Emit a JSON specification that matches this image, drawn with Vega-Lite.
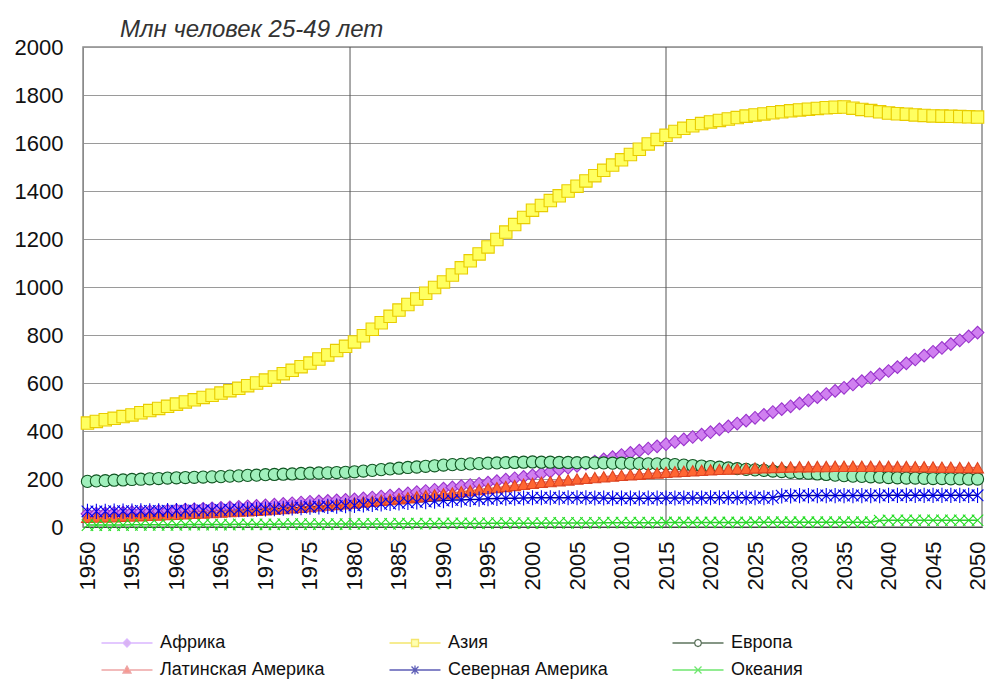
{
"$schema": "https://vega.github.io/schema/vega-lite/v6.json",
"width": 899, "height": 480,
"autosize": {"type": "none"},
"padding": {"left": 83, "top": 47, "right": 7, "bottom": 156},
"background": "white",
"config": {"font": "Liberation Sans", "view": {"stroke": "#8a8a8a", "strokeWidth": 1.5}},
"title": {"text": "Млн человек 25-49 лет", "anchor": "start", "frame": "group", "fontStyle": "italic", "fontWeight": "normal", "fontSize": 24, "color": "#333333", "dx": 37, "offset": -6},
"data": {"values": [
{"s":"Африка","x":1950,"v":55},{"s":"Африка","x":1951,"v":56},{"s":"Африка","x":1952,"v":57},{"s":"Африка","x":1953,"v":59},{"s":"Африка","x":1954,"v":60},
{"s":"Африка","x":1955,"v":62},{"s":"Африка","x":1956,"v":63},{"s":"Африка","x":1957,"v":65},{"s":"Африка","x":1958,"v":66},{"s":"Африка","x":1959,"v":68},
{"s":"Африка","x":1960,"v":70},{"s":"Африка","x":1961,"v":72},{"s":"Африка","x":1962,"v":74},{"s":"Африка","x":1963,"v":76},{"s":"Африка","x":1964,"v":78},
{"s":"Африка","x":1965,"v":80},{"s":"Африка","x":1966,"v":82},{"s":"Африка","x":1967,"v":84},{"s":"Африка","x":1968,"v":86},{"s":"Африка","x":1969,"v":88},
{"s":"Африка","x":1970,"v":90},{"s":"Африка","x":1971,"v":93},{"s":"Африка","x":1972,"v":96},{"s":"Африка","x":1973,"v":99},{"s":"Африка","x":1974,"v":102},
{"s":"Африка","x":1975,"v":105},{"s":"Африка","x":1976,"v":107},{"s":"Африка","x":1977,"v":109},{"s":"Африка","x":1978,"v":111},{"s":"Африка","x":1979,"v":113},
{"s":"Африка","x":1980,"v":115},{"s":"Африка","x":1981,"v":119},{"s":"Африка","x":1982,"v":123},{"s":"Африка","x":1983,"v":127},{"s":"Африка","x":1984,"v":131},
{"s":"Африка","x":1985,"v":135},{"s":"Африка","x":1986,"v":140},{"s":"Африка","x":1987,"v":145},{"s":"Африка","x":1988,"v":150},{"s":"Африка","x":1989,"v":155},
{"s":"Африка","x":1990,"v":160},{"s":"Африка","x":1991,"v":165},{"s":"Африка","x":1992,"v":170},{"s":"Африка","x":1993,"v":175},{"s":"Африка","x":1994,"v":180},
{"s":"Африка","x":1995,"v":185},{"s":"Африка","x":1996,"v":191},{"s":"Африка","x":1997,"v":197},{"s":"Африка","x":1998,"v":203},{"s":"Африка","x":1999,"v":209},
{"s":"Африка","x":2000,"v":215},{"s":"Африка","x":2001,"v":223},{"s":"Африка","x":2002,"v":231},{"s":"Африка","x":2003,"v":239},{"s":"Африка","x":2004,"v":247},
{"s":"Африка","x":2005,"v":255},{"s":"Африка","x":2006,"v":264},{"s":"Африка","x":2007,"v":273},{"s":"Африка","x":2008,"v":282},{"s":"Африка","x":2009,"v":291},
{"s":"Африка","x":2010,"v":300},{"s":"Африка","x":2011,"v":309},{"s":"Африка","x":2012,"v":318},{"s":"Африка","x":2013,"v":327},{"s":"Африка","x":2014,"v":336},
{"s":"Африка","x":2015,"v":345},{"s":"Африка","x":2016,"v":355},{"s":"Африка","x":2017,"v":365},{"s":"Африка","x":2018,"v":375},{"s":"Африка","x":2019,"v":385},
{"s":"Африка","x":2020,"v":395},{"s":"Африка","x":2021,"v":407},{"s":"Африка","x":2022,"v":419},{"s":"Африка","x":2023,"v":431},{"s":"Африка","x":2024,"v":443},
{"s":"Африка","x":2025,"v":455},{"s":"Африка","x":2026,"v":467},{"s":"Африка","x":2027,"v":479},{"s":"Африка","x":2028,"v":491},{"s":"Африка","x":2029,"v":503},
{"s":"Африка","x":2030,"v":515},{"s":"Африка","x":2031,"v":528},{"s":"Африка","x":2032,"v":541},{"s":"Африка","x":2033,"v":554},{"s":"Африка","x":2034,"v":567},
{"s":"Африка","x":2035,"v":580},{"s":"Африка","x":2036,"v":594},{"s":"Африка","x":2037,"v":608},{"s":"Африка","x":2038,"v":622},{"s":"Африка","x":2039,"v":636},
{"s":"Африка","x":2040,"v":650},{"s":"Африка","x":2041,"v":666},{"s":"Африка","x":2042,"v":682},{"s":"Африка","x":2043,"v":698},{"s":"Африка","x":2044,"v":714},
{"s":"Африка","x":2045,"v":730},{"s":"Африка","x":2046,"v":746},{"s":"Африка","x":2047,"v":762},{"s":"Африка","x":2048,"v":778},{"s":"Африка","x":2049,"v":794},
{"s":"Африка","x":2050,"v":810},
{"s":"Азия","x":1950,"v":433},{"s":"Азия","x":1951,"v":440},{"s":"Азия","x":1952,"v":447},{"s":"Азия","x":1953,"v":453},{"s":"Азия","x":1954,"v":460},
{"s":"Азия","x":1955,"v":467},{"s":"Азия","x":1956,"v":476},{"s":"Азия","x":1957,"v":485},{"s":"Азия","x":1958,"v":494},{"s":"Азия","x":1959,"v":503},
{"s":"Азия","x":1960,"v":512},{"s":"Азия","x":1961,"v":521},{"s":"Азия","x":1962,"v":530},{"s":"Азия","x":1963,"v":540},{"s":"Азия","x":1964,"v":549},
{"s":"Азия","x":1965,"v":558},{"s":"Азия","x":1966,"v":568},{"s":"Азия","x":1967,"v":578},{"s":"Азия","x":1968,"v":589},{"s":"Азия","x":1969,"v":600},
{"s":"Азия","x":1970,"v":612},{"s":"Азия","x":1971,"v":625},{"s":"Азия","x":1972,"v":639},{"s":"Азия","x":1973,"v":653},{"s":"Азия","x":1974,"v":668},
{"s":"Азия","x":1975,"v":683},{"s":"Азия","x":1976,"v":700},{"s":"Азия","x":1977,"v":717},{"s":"Азия","x":1978,"v":735},{"s":"Азия","x":1979,"v":753},
{"s":"Азия","x":1980,"v":771},{"s":"Азия","x":1981,"v":797},{"s":"Азия","x":1982,"v":824},{"s":"Азия","x":1983,"v":851},{"s":"Азия","x":1984,"v":878},
{"s":"Азия","x":1985,"v":904},{"s":"Азия","x":1986,"v":927},{"s":"Азия","x":1987,"v":950},{"s":"Азия","x":1988,"v":974},{"s":"Азия","x":1989,"v":998},
{"s":"Азия","x":1990,"v":1021},{"s":"Азия","x":1991,"v":1050},{"s":"Азия","x":1992,"v":1080},{"s":"Азия","x":1993,"v":1109},{"s":"Азия","x":1994,"v":1138},
{"s":"Азия","x":1995,"v":1167},{"s":"Азия","x":1996,"v":1198},{"s":"Азия","x":1997,"v":1229},{"s":"Азия","x":1998,"v":1260},{"s":"Азия","x":1999,"v":1290},
{"s":"Азия","x":2000,"v":1320},{"s":"Азия","x":2001,"v":1340},{"s":"Азия","x":2002,"v":1360},{"s":"Азия","x":2003,"v":1380},{"s":"Азия","x":2004,"v":1400},
{"s":"Азия","x":2005,"v":1420},{"s":"Азия","x":2006,"v":1442},{"s":"Азия","x":2007,"v":1464},{"s":"Азия","x":2008,"v":1486},{"s":"Азия","x":2009,"v":1508},
{"s":"Азия","x":2010,"v":1530},{"s":"Азия","x":2011,"v":1552},{"s":"Азия","x":2012,"v":1574},{"s":"Азия","x":2013,"v":1596},{"s":"Азия","x":2014,"v":1615},
{"s":"Азия","x":2015,"v":1632},{"s":"Азия","x":2016,"v":1648},{"s":"Азия","x":2017,"v":1661},{"s":"Азия","x":2018,"v":1672},{"s":"Азия","x":2019,"v":1681},
{"s":"Азия","x":2020,"v":1688},{"s":"Азия","x":2021,"v":1694},{"s":"Азия","x":2022,"v":1700},{"s":"Азия","x":2023,"v":1706},{"s":"Азия","x":2024,"v":1712},
{"s":"Азия","x":2025,"v":1717},{"s":"Азия","x":2026,"v":1721},{"s":"Азия","x":2027,"v":1726},{"s":"Азия","x":2028,"v":1730},{"s":"Азия","x":2029,"v":1734},
{"s":"Азия","x":2030,"v":1738},{"s":"Азия","x":2031,"v":1741},{"s":"Азия","x":2032,"v":1744},{"s":"Азия","x":2033,"v":1747},{"s":"Азия","x":2034,"v":1749},
{"s":"Азия","x":2035,"v":1750},{"s":"Азия","x":2036,"v":1745},{"s":"Азия","x":2037,"v":1740},{"s":"Азия","x":2038,"v":1735},{"s":"Азия","x":2039,"v":1730},
{"s":"Азия","x":2040,"v":1725},{"s":"Азия","x":2041,"v":1722},{"s":"Азия","x":2042,"v":1720},{"s":"Азия","x":2043,"v":1717},{"s":"Азия","x":2044,"v":1715},
{"s":"Азия","x":2045,"v":1713},{"s":"Азия","x":2046,"v":1712},{"s":"Азия","x":2047,"v":1711},{"s":"Азия","x":2048,"v":1710},{"s":"Азия","x":2049,"v":1709},
{"s":"Азия","x":2050,"v":1708},
{"s":"Европа","x":1950,"v":190},{"s":"Европа","x":1951,"v":192},{"s":"Европа","x":1952,"v":193},{"s":"Европа","x":1953,"v":195},{"s":"Европа","x":1954,"v":196},
{"s":"Европа","x":1955,"v":198},{"s":"Европа","x":1956,"v":199},{"s":"Европа","x":1957,"v":201},{"s":"Европа","x":1958,"v":202},{"s":"Европа","x":1959,"v":204},
{"s":"Европа","x":1960,"v":205},{"s":"Европа","x":1961,"v":206},{"s":"Европа","x":1962,"v":207},{"s":"Европа","x":1963,"v":208},{"s":"Европа","x":1964,"v":209},
{"s":"Европа","x":1965,"v":210},{"s":"Европа","x":1966,"v":212},{"s":"Европа","x":1967,"v":213},{"s":"Европа","x":1968,"v":215},{"s":"Европа","x":1969,"v":216},
{"s":"Европа","x":1970,"v":218},{"s":"Европа","x":1971,"v":219},{"s":"Европа","x":1972,"v":220},{"s":"Европа","x":1973,"v":221},{"s":"Европа","x":1974,"v":223},
{"s":"Европа","x":1975,"v":224},{"s":"Европа","x":1976,"v":225},{"s":"Европа","x":1977,"v":226},{"s":"Европа","x":1978,"v":227},{"s":"Европа","x":1979,"v":228},
{"s":"Европа","x":1980,"v":230},{"s":"Европа","x":1981,"v":233},{"s":"Европа","x":1982,"v":236},{"s":"Европа","x":1983,"v":239},{"s":"Европа","x":1984,"v":242},
{"s":"Европа","x":1985,"v":245},{"s":"Европа","x":1986,"v":248},{"s":"Европа","x":1987,"v":250},{"s":"Европа","x":1988,"v":253},{"s":"Европа","x":1989,"v":255},
{"s":"Европа","x":1990,"v":258},{"s":"Европа","x":1991,"v":260},{"s":"Европа","x":1992,"v":261},{"s":"Европа","x":1993,"v":263},{"s":"Европа","x":1994,"v":264},
{"s":"Европа","x":1995,"v":266},{"s":"Европа","x":1996,"v":267},{"s":"Европа","x":1997,"v":268},{"s":"Европа","x":1998,"v":269},{"s":"Европа","x":1999,"v":270},
{"s":"Европа","x":2000,"v":271},{"s":"Европа","x":2001,"v":270},{"s":"Европа","x":2002,"v":270},{"s":"Европа","x":2003,"v":269},{"s":"Европа","x":2004,"v":269},
{"s":"Европа","x":2005,"v":268},{"s":"Европа","x":2006,"v":268},{"s":"Европа","x":2007,"v":267},{"s":"Европа","x":2008,"v":267},{"s":"Европа","x":2009,"v":266},
{"s":"Европа","x":2010,"v":266},{"s":"Европа","x":2011,"v":265},{"s":"Европа","x":2012,"v":264},{"s":"Европа","x":2013,"v":263},{"s":"Европа","x":2014,"v":263},
{"s":"Европа","x":2015,"v":262},{"s":"Европа","x":2016,"v":260},{"s":"Европа","x":2017,"v":258},{"s":"Европа","x":2018,"v":256},{"s":"Европа","x":2019,"v":254},
{"s":"Европа","x":2020,"v":252},{"s":"Европа","x":2021,"v":249},{"s":"Европа","x":2022,"v":246},{"s":"Европа","x":2023,"v":243},{"s":"Европа","x":2024,"v":240},
{"s":"Европа","x":2025,"v":238},{"s":"Европа","x":2026,"v":236},{"s":"Европа","x":2027,"v":233},{"s":"Европа","x":2028,"v":231},{"s":"Европа","x":2029,"v":228},
{"s":"Европа","x":2030,"v":226},{"s":"Европа","x":2031,"v":224},{"s":"Европа","x":2032,"v":221},{"s":"Европа","x":2033,"v":219},{"s":"Европа","x":2034,"v":216},
{"s":"Европа","x":2035,"v":214},{"s":"Европа","x":2036,"v":212},{"s":"Европа","x":2037,"v":211},{"s":"Европа","x":2038,"v":209},{"s":"Европа","x":2039,"v":208},
{"s":"Европа","x":2040,"v":206},{"s":"Европа","x":2041,"v":205},{"s":"Европа","x":2042,"v":204},{"s":"Европа","x":2043,"v":204},{"s":"Европа","x":2044,"v":203},
{"s":"Европа","x":2045,"v":202},{"s":"Европа","x":2046,"v":202},{"s":"Европа","x":2047,"v":201},{"s":"Европа","x":2048,"v":201},{"s":"Европа","x":2049,"v":200},
{"s":"Европа","x":2050,"v":200},
{"s":"Латинская Америка","x":1950,"v":40},{"s":"Латинская Америка","x":1951,"v":41},{"s":"Латинская Америка","x":1952,"v":42},{"s":"Латинская Америка","x":1953,"v":43},{"s":"Латинская Америка","x":1954,"v":45},
{"s":"Латинская Америка","x":1955,"v":46},{"s":"Латинская Америка","x":1956,"v":47},{"s":"Латинская Америка","x":1957,"v":49},{"s":"Латинская Америка","x":1958,"v":50},{"s":"Латинская Америка","x":1959,"v":52},
{"s":"Латинская Америка","x":1960,"v":53},{"s":"Латинская Америка","x":1961,"v":55},{"s":"Латинская Америка","x":1962,"v":57},{"s":"Латинская Америка","x":1963,"v":58},{"s":"Латинская Америка","x":1964,"v":60},
{"s":"Латинская Америка","x":1965,"v":62},{"s":"Латинская Америка","x":1966,"v":64},{"s":"Латинская Америка","x":1967,"v":66},{"s":"Латинская Америка","x":1968,"v":68},{"s":"Латинская Америка","x":1969,"v":70},
{"s":"Латинская Америка","x":1970,"v":72},{"s":"Латинская Америка","x":1971,"v":75},{"s":"Латинская Америка","x":1972,"v":77},{"s":"Латинская Америка","x":1973,"v":80},{"s":"Латинская Америка","x":1974,"v":82},
{"s":"Латинская Америка","x":1975,"v":85},{"s":"Латинская Америка","x":1976,"v":88},{"s":"Латинская Америка","x":1977,"v":91},{"s":"Латинская Америка","x":1978,"v":94},{"s":"Латинская Америка","x":1979,"v":97},
{"s":"Латинская Америка","x":1980,"v":100},{"s":"Латинская Америка","x":1981,"v":104},{"s":"Латинская Америка","x":1982,"v":107},{"s":"Латинская Америка","x":1983,"v":111},{"s":"Латинская Америка","x":1984,"v":114},
{"s":"Латинская Америка","x":1985,"v":118},{"s":"Латинская Америка","x":1986,"v":122},{"s":"Латинская Америка","x":1987,"v":126},{"s":"Латинская Америка","x":1988,"v":130},{"s":"Латинская Америка","x":1989,"v":134},
{"s":"Латинская Америка","x":1990,"v":138},{"s":"Латинская Америка","x":1991,"v":142},{"s":"Латинская Америка","x":1992,"v":147},{"s":"Латинская Америка","x":1993,"v":151},{"s":"Латинская Америка","x":1994,"v":156},
{"s":"Латинская Америка","x":1995,"v":160},{"s":"Латинская Америка","x":1996,"v":164},{"s":"Латинская Америка","x":1997,"v":169},{"s":"Латинская Америка","x":1998,"v":173},{"s":"Латинская Америка","x":1999,"v":178},
{"s":"Латинская Америка","x":2000,"v":182},{"s":"Латинская Америка","x":2001,"v":186},{"s":"Латинская Америка","x":2002,"v":189},{"s":"Латинская Америка","x":2003,"v":193},{"s":"Латинская Америка","x":2004,"v":196},
{"s":"Латинская Америка","x":2005,"v":200},{"s":"Латинская Америка","x":2006,"v":203},{"s":"Латинская Америка","x":2007,"v":206},{"s":"Латинская Америка","x":2008,"v":209},{"s":"Латинская Америка","x":2009,"v":212},
{"s":"Латинская Америка","x":2010,"v":215},{"s":"Латинская Америка","x":2011,"v":218},{"s":"Латинская Америка","x":2012,"v":220},{"s":"Латинская Америка","x":2013,"v":223},{"s":"Латинская Америка","x":2014,"v":225},
{"s":"Латинская Америка","x":2015,"v":228},{"s":"Латинская Америка","x":2016,"v":230},{"s":"Латинская Америка","x":2017,"v":232},{"s":"Латинская Америка","x":2018,"v":234},{"s":"Латинская Америка","x":2019,"v":236},
{"s":"Латинская Америка","x":2020,"v":238},{"s":"Латинская Америка","x":2021,"v":240},{"s":"Латинская Америка","x":2022,"v":241},{"s":"Латинская Америка","x":2023,"v":243},{"s":"Латинская Америка","x":2024,"v":244},
{"s":"Латинская Америка","x":2025,"v":246},{"s":"Латинская Америка","x":2026,"v":247},{"s":"Латинская Америка","x":2027,"v":248},{"s":"Латинская Америка","x":2028,"v":249},{"s":"Латинская Америка","x":2029,"v":250},
{"s":"Латинская Америка","x":2030,"v":251},{"s":"Латинская Америка","x":2031,"v":251},{"s":"Латинская Америка","x":2032,"v":252},{"s":"Латинская Америка","x":2033,"v":252},{"s":"Латинская Америка","x":2034,"v":253},
{"s":"Латинская Америка","x":2035,"v":253},{"s":"Латинская Америка","x":2036,"v":253},{"s":"Латинская Америка","x":2037,"v":253},{"s":"Латинская Америка","x":2038,"v":253},{"s":"Латинская Америка","x":2039,"v":253},
{"s":"Латинская Америка","x":2040,"v":253},{"s":"Латинская Америка","x":2041,"v":252},{"s":"Латинская Америка","x":2042,"v":252},{"s":"Латинская Америка","x":2043,"v":251},{"s":"Латинская Америка","x":2044,"v":251},
{"s":"Латинская Америка","x":2045,"v":250},{"s":"Латинская Америка","x":2046,"v":249},{"s":"Латинская Америка","x":2047,"v":249},{"s":"Латинская Америка","x":2048,"v":248},{"s":"Латинская Америка","x":2049,"v":248},
{"s":"Латинская Америка","x":2050,"v":247},
{"s":"Северная Америка","x":1950,"v":65},{"s":"Северная Америка","x":1951,"v":65},{"s":"Северная Америка","x":1952,"v":65},{"s":"Северная Америка","x":1953,"v":66},{"s":"Северная Америка","x":1954,"v":66},
{"s":"Северная Америка","x":1955,"v":66},{"s":"Северная Америка","x":1956,"v":67},{"s":"Северная Америка","x":1957,"v":67},{"s":"Северная Америка","x":1958,"v":67},{"s":"Северная Америка","x":1959,"v":68},
{"s":"Северная Америка","x":1960,"v":68},{"s":"Северная Америка","x":1961,"v":68},{"s":"Северная Америка","x":1962,"v":69},{"s":"Северная Америка","x":1963,"v":69},{"s":"Северная Америка","x":1964,"v":70},
{"s":"Северная Америка","x":1965,"v":71},{"s":"Северная Америка","x":1966,"v":72},{"s":"Северная Америка","x":1967,"v":72},{"s":"Северная Америка","x":1968,"v":73},{"s":"Северная Америка","x":1969,"v":74},
{"s":"Северная Америка","x":1970,"v":75},{"s":"Северная Америка","x":1971,"v":76},{"s":"Северная Америка","x":1972,"v":78},{"s":"Северная Америка","x":1973,"v":80},{"s":"Северная Америка","x":1974,"v":81},
{"s":"Северная Америка","x":1975,"v":83},{"s":"Северная Америка","x":1976,"v":84},{"s":"Северная Америка","x":1977,"v":86},{"s":"Северная Америка","x":1978,"v":87},{"s":"Северная Америка","x":1979,"v":89},
{"s":"Северная Америка","x":1980,"v":90},{"s":"Северная Америка","x":1981,"v":92},{"s":"Северная Америка","x":1982,"v":94},{"s":"Северная Америка","x":1983,"v":96},{"s":"Северная Америка","x":1984,"v":98},
{"s":"Северная Америка","x":1985,"v":100},{"s":"Северная Америка","x":1986,"v":102},{"s":"Северная Америка","x":1987,"v":104},{"s":"Северная Америка","x":1988,"v":106},{"s":"Северная Америка","x":1989,"v":108},
{"s":"Северная Америка","x":1990,"v":110},{"s":"Северная Америка","x":1991,"v":112},{"s":"Северная Америка","x":1992,"v":113},{"s":"Северная Америка","x":1993,"v":115},{"s":"Северная Америка","x":1994,"v":116},
{"s":"Северная Америка","x":1995,"v":118},{"s":"Северная Америка","x":1996,"v":119},{"s":"Северная Америка","x":1997,"v":120},{"s":"Северная Америка","x":1998,"v":120},{"s":"Северная Америка","x":1999,"v":121},
{"s":"Северная Америка","x":2000,"v":122},{"s":"Северная Америка","x":2001,"v":122},{"s":"Северная Америка","x":2002,"v":122},{"s":"Северная Америка","x":2003,"v":122},{"s":"Северная Америка","x":2004,"v":122},
{"s":"Северная Америка","x":2005,"v":122},{"s":"Северная Америка","x":2006,"v":122},{"s":"Северная Америка","x":2007,"v":121},{"s":"Северная Америка","x":2008,"v":121},{"s":"Северная Америка","x":2009,"v":120},
{"s":"Северная Америка","x":2010,"v":120},{"s":"Северная Америка","x":2011,"v":120},{"s":"Северная Америка","x":2012,"v":120},{"s":"Северная Америка","x":2013,"v":120},{"s":"Северная Америка","x":2014,"v":120},
{"s":"Северная Америка","x":2015,"v":121},{"s":"Северная Америка","x":2016,"v":121},{"s":"Северная Америка","x":2017,"v":121},{"s":"Северная Америка","x":2018,"v":121},{"s":"Северная Америка","x":2019,"v":121},
{"s":"Северная Америка","x":2020,"v":122},{"s":"Северная Америка","x":2021,"v":122},{"s":"Северная Америка","x":2022,"v":122},{"s":"Северная Америка","x":2023,"v":122},{"s":"Северная Америка","x":2024,"v":122},
{"s":"Северная Америка","x":2025,"v":122},{"s":"Северная Америка","x":2026,"v":122},{"s":"Северная Америка","x":2027,"v":122},{"s":"Северная Америка","x":2028,"v":130},{"s":"Северная Америка","x":2029,"v":130},
{"s":"Северная Америка","x":2030,"v":131},{"s":"Северная Америка","x":2031,"v":131},{"s":"Северная Америка","x":2032,"v":131},{"s":"Северная Америка","x":2033,"v":131},{"s":"Северная Америка","x":2034,"v":131},
{"s":"Северная Америка","x":2035,"v":131},{"s":"Северная Америка","x":2036,"v":131},{"s":"Северная Америка","x":2037,"v":131},{"s":"Северная Америка","x":2038,"v":131},{"s":"Северная Америка","x":2039,"v":131},
{"s":"Северная Америка","x":2040,"v":132},{"s":"Северная Америка","x":2041,"v":132},{"s":"Северная Америка","x":2042,"v":132},{"s":"Северная Америка","x":2043,"v":132},{"s":"Северная Америка","x":2044,"v":132},
{"s":"Северная Америка","x":2045,"v":132},{"s":"Северная Америка","x":2046,"v":132},{"s":"Северная Америка","x":2047,"v":132},{"s":"Северная Америка","x":2048,"v":132},{"s":"Северная Америка","x":2049,"v":132},
{"s":"Северная Америка","x":2050,"v":132},
{"s":"Океания","x":1950,"v":8},{"s":"Океания","x":1951,"v":8},{"s":"Океания","x":1952,"v":8},{"s":"Океания","x":1953,"v":8},{"s":"Океания","x":1954,"v":8},
{"s":"Океания","x":1955,"v":9},{"s":"Океания","x":1956,"v":9},{"s":"Океания","x":1957,"v":9},{"s":"Океания","x":1958,"v":9},{"s":"Океания","x":1959,"v":9},
{"s":"Океания","x":1960,"v":9},{"s":"Океания","x":1961,"v":10},{"s":"Океания","x":1962,"v":10},{"s":"Океания","x":1963,"v":10},{"s":"Океания","x":1964,"v":10},
{"s":"Океания","x":1965,"v":10},{"s":"Океания","x":1966,"v":10},{"s":"Океания","x":1967,"v":11},{"s":"Океания","x":1968,"v":11},{"s":"Океания","x":1969,"v":11},
{"s":"Океания","x":1970,"v":11},{"s":"Океания","x":1971,"v":11},{"s":"Океания","x":1972,"v":12},{"s":"Океания","x":1973,"v":12},{"s":"Океания","x":1974,"v":12},
{"s":"Океания","x":1975,"v":12},{"s":"Океания","x":1976,"v":12},{"s":"Океания","x":1977,"v":12},{"s":"Океания","x":1978,"v":12},{"s":"Океания","x":1979,"v":12},
{"s":"Океания","x":1980,"v":13},{"s":"Океания","x":1981,"v":13},{"s":"Океания","x":1982,"v":13},{"s":"Океания","x":1983,"v":13},{"s":"Океания","x":1984,"v":13},
{"s":"Океания","x":1985,"v":14},{"s":"Океания","x":1986,"v":14},{"s":"Океания","x":1987,"v":14},{"s":"Океания","x":1988,"v":14},{"s":"Океания","x":1989,"v":14},
{"s":"Океания","x":1990,"v":15},{"s":"Океания","x":1991,"v":15},{"s":"Океания","x":1992,"v":15},{"s":"Океания","x":1993,"v":15},{"s":"Океания","x":1994,"v":15},
{"s":"Океания","x":1995,"v":16},{"s":"Океания","x":1996,"v":16},{"s":"Океания","x":1997,"v":16},{"s":"Океания","x":1998,"v":16},{"s":"Океания","x":1999,"v":16},
{"s":"Океания","x":2000,"v":16},{"s":"Океания","x":2001,"v":16},{"s":"Океания","x":2002,"v":17},{"s":"Океания","x":2003,"v":17},{"s":"Океания","x":2004,"v":17},
{"s":"Океания","x":2005,"v":17},{"s":"Океания","x":2006,"v":17},{"s":"Океания","x":2007,"v":17},{"s":"Океания","x":2008,"v":18},{"s":"Океания","x":2009,"v":18},
{"s":"Океания","x":2010,"v":18},{"s":"Океания","x":2011,"v":18},{"s":"Океания","x":2012,"v":18},{"s":"Океания","x":2013,"v":18},{"s":"Океания","x":2014,"v":18},
{"s":"Океания","x":2015,"v":19},{"s":"Океания","x":2016,"v":19},{"s":"Океания","x":2017,"v":19},{"s":"Океания","x":2018,"v":19},{"s":"Океания","x":2019,"v":19},
{"s":"Океания","x":2020,"v":19},{"s":"Океания","x":2021,"v":19},{"s":"Океания","x":2022,"v":19},{"s":"Океания","x":2023,"v":19},{"s":"Океания","x":2024,"v":19},
{"s":"Океания","x":2025,"v":20},{"s":"Океания","x":2026,"v":20},{"s":"Океания","x":2027,"v":20},{"s":"Океания","x":2028,"v":20},{"s":"Океания","x":2029,"v":20},
{"s":"Океания","x":2030,"v":20},{"s":"Океания","x":2031,"v":20},{"s":"Океания","x":2032,"v":20},{"s":"Океания","x":2033,"v":20},{"s":"Океания","x":2034,"v":20},
{"s":"Океания","x":2035,"v":20},{"s":"Океания","x":2036,"v":20},{"s":"Океания","x":2037,"v":20},{"s":"Океания","x":2038,"v":20},{"s":"Океания","x":2039,"v":27},
{"s":"Океания","x":2040,"v":28},{"s":"Океания","x":2041,"v":28},{"s":"Океания","x":2042,"v":28},{"s":"Океания","x":2043,"v":28},{"s":"Океания","x":2044,"v":28},
{"s":"Океания","x":2045,"v":28},{"s":"Океания","x":2046,"v":28},{"s":"Океания","x":2047,"v":28},{"s":"Океания","x":2048,"v":28},{"s":"Океания","x":2049,"v":28},
{"s":"Океания","x":2050,"v":28}
]},
"layer": [
{"data": {"values": [{"g": 1979.5}, {"g": 2015}]},
 "mark": {"type": "rule", "color": "#555555", "strokeWidth": 1},
 "encoding": {"x": {"field": "g", "type": "quantitative", "scale": {"domain": [1949.5, 2050.5], "nice": false, "zero": false}}}},
{"mark": {"type": "line", "strokeWidth": 1.5},
 "encoding": {
  "x": {"field": "x", "type": "quantitative", "scale": {"domain": [1949.5, 2050.5], "nice": false, "zero": false},
        "axis": {"values": [1950,1955,1960,1965,1970,1975,1980,1985,1990,1995,2000,2005,2010,2015,2020,2025,2030,2035,2040,2045,2050], "format": "d", "labelAngle": 270, "ticks": false, "grid": false, "labelFontSize": 22, "labelColor": "#111111", "labelPadding": 14, "domainColor": "#444444", "title": null, "labelFlush": false, "labelOverlap": false, "labelDy": 2}},
  "y": {"field": "v", "type": "quantitative", "scale": {"domain": [0, 2000], "nice": false},
        "axis": {"values": [0,200,400,600,800,1000,1200,1400,1600,1800,2000], "format": "d", "grid": true, "gridColor": "#9a9a9a", "ticks": false, "labelFontSize": 22, "labelColor": "#111111", "labelPadding": 20, "domainColor": "#8a8a8a", "title": null}},
  "stroke": {"field": "s", "type": "nominal", "legend": null,
    "scale": {"domain": ["Африка","Азия","Европа","Латинская Америка","Северная Америка","Океания"], "range": ["#cc99ff","#f5e000","#1a3a1a","#e06a6a","#000099","#33cc33"]}}
 }},
{"mark": {"type": "point", "filled": true, "opacity": 1, "strokeWidth": 1.1},
 "encoding": {
  "x": {"field": "x", "type": "quantitative", "scale": {"domain": [1949.5, 2050.5], "nice": false, "zero": false}},
  "y": {"field": "v", "type": "quantitative", "scale": {"domain": [0, 2000], "nice": false}},
  "shape": {"field": "s", "type": "nominal", "legend": null,
    "scale": {"domain": ["Африка","Азия","Европа","Латинская Америка","Северная Америка","Океания"], "range": ["diamond","square","circle","triangle-up","M-1,-1L1,1M-1,1L1,-1M0,-1.3V1.3","M-1,-1L1,1M-1,1L1,-1"]}},
  "fill": {"field": "s", "type": "nominal", "legend": null,
    "scale": {"domain": ["Африка","Азия","Европа","Латинская Америка","Северная Америка","Океания"], "range": ["#d080f0","#ffff60","#a0f0bc","#ff6633","#0000ee","#33ee33"]}},
  "stroke": {"field": "s", "type": "nominal", "legend": null,
    "scale": {"domain": ["Африка","Азия","Европа","Латинская Америка","Северная Америка","Океания"], "range": ["#9933cc","#e8cc00","#115522","#dd4422","#0000ee","#22dd22"]}},
  "size": {"field": "s", "type": "nominal", "legend": null,
    "scale": {"domain": ["Африка","Азия","Европа","Латинская Америка","Северная Америка","Океания"], "range": [160, 130, 150, 130, 70, 65]}}
 }},
{"mark": {"type": "point", "filled": true, "size": 0},
 "encoding": {
  "x": {"field": "x", "type": "quantitative", "scale": {"domain": [1949.5, 2050.5], "nice": false, "zero": false}},
  "y": {"field": "v", "type": "quantitative", "scale": {"domain": [0, 2000], "nice": false}},
  "shape": {"field": "s", "type": "nominal",
    "scale": {"domain": ["Африка","Азия","Европа","Латинская Америка","Северная Америка","Океания"], "range": [
      "M-5.1,0H-0.8M0.8,0H5.1M0,-0.8L0.8,0L0,0.8L-0.8,0Z",
      "M-5.1,0H-0.7M0.7,0H5.1M-0.7,-0.7H0.7V0.7H-0.7Z",
      "M-5.1,0H-0.7M0.7,0H5.1M0.7,0L0.5,0.5L0,0.7L-0.5,0.5L-0.7,0L-0.5,-0.5L0,-0.7L0.5,-0.5Z",
      "M-5.1,0H-0.6M0.6,0H5.1M0,-0.8L0.8,0.6L-0.8,0.6Z",
      "M-5.1,0H5.1M-0.7,-0.7L0.7,0.7M-0.7,0.7L0.7,-0.7M0,-0.9V0.9",
      "M-5.1,0H5.1M-0.7,-0.7L0.7,0.7M-0.7,0.7L0.7,-0.7"]},
    "legend": {"orient": "none", "legendX": 35, "legendY": 587, "columns": 3, "direction": "horizontal", "title": null, "symbolSize": 100, "symbolStrokeWidth": 1.3, "labelFontSize": 18, "labelColor": "#111111", "labelOffset": 24, "columnPadding": 61, "rowPadding": 9, "padding": 0, "labelLimit": 300}},
  "fill": {"field": "s", "type": "nominal",
    "scale": {"domain": ["Африка","Азия","Европа","Латинская Америка","Северная Америка","Океания"], "range": ["#b366e6","#ffff60","#ffffff","#ee3322","#0000ee","#33ee33"]}},
  "stroke": {"field": "s", "type": "nominal",
    "scale": {"domain": ["Африка","Азия","Европа","Латинская Америка","Северная Америка","Океания"], "range": ["#cc99ff","#f0dc30","#1a3a1a","#e88080","#1a1a99","#33dd33"]}}
 }}
],
"resolve": {"scale": {"shape": "independent", "fill": "independent", "stroke": "independent", "size": "independent"}}
}
